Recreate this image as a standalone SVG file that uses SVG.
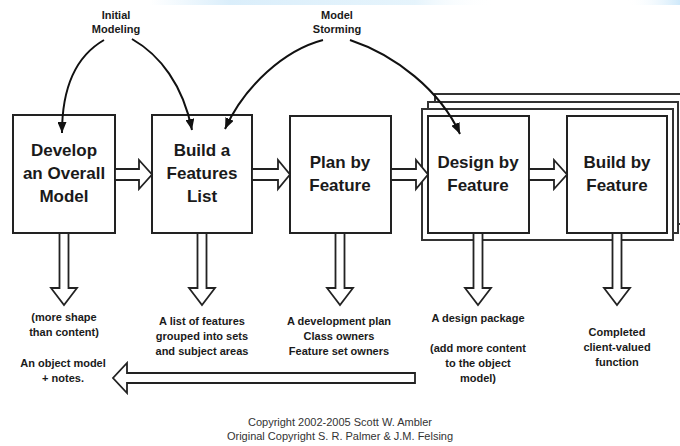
<svg xmlns="http://www.w3.org/2000/svg" width="680" height="446" viewBox="0 0 680 446">
<defs>
<linearGradient id="band" x1="0" y1="0" x2="1" y2="0">
<stop offset="0" stop-color="#d6ecfa" stop-opacity="0"/>
<stop offset="0.15" stop-color="#d6ecfa" stop-opacity="0.9"/>
<stop offset="0.5" stop-color="#dff1fb" stop-opacity="0.8"/>
<stop offset="0.65" stop-color="#ffffff" stop-opacity="0"/>
<stop offset="0.9" stop-color="#ffffff" stop-opacity="0"/>
<stop offset="1" stop-color="#cfe9fa" stop-opacity="1"/>
</linearGradient>
<marker id="ah" markerUnits="userSpaceOnUse" markerWidth="11" markerHeight="9" refX="11" refY="4.5" orient="auto">
<path d="M0,0 L11,4.5 L0,9 Z" fill="#111"/>
</marker>
<style>
.box{fill:#fff;stroke:#222;stroke-width:2}
.frame{fill:#fff;stroke:#333;stroke-width:2}
.blk{fill:#fff;stroke:#222;stroke-width:1.8;stroke-linejoin:miter}
.cur{fill:none;stroke:#111;stroke-width:2;marker-end:url(#ah)}
.t{font-family:"Liberation Sans",Arial,sans-serif;font-weight:bold;fill:#1a1a1a;text-anchor:middle}
.big{font-size:17px}
.sm{font-size:11px}
.cp{font-family:"Liberation Sans",Arial,sans-serif;font-size:11px;fill:#333;text-anchor:middle}
</style>
</defs>
<rect x="150" y="0" width="530" height="5" fill="url(#band)"/>

<g id="stack">
<rect class="frame" x="435" y="94" width="260" height="130"/>
<rect class="frame" x="428" y="102" width="250" height="131"/>
<rect class="frame" x="422" y="109" width="251" height="131"/>
</g>

<g id="develop">
<rect class="box" x="13" y="115" width="102" height="118"/>
<text class="t big" x="64" y="156">Develop</text>
<text class="t big" x="64" y="179">an Overall</text>
<text class="t big" x="64" y="202">Model</text>
</g>
<g id="buildlist">
<rect class="box" x="152" y="115" width="100" height="118"/>
<text class="t big" x="202" y="156">Build a</text>
<text class="t big" x="202" y="179">Features</text>
<text class="t big" x="202" y="202">List</text>
</g>
<g id="plan">
<rect class="box" x="290" y="116" width="101" height="117"/>
<text class="t big" x="340" y="168">Plan by</text>
<text class="t big" x="340" y="191">Feature</text>
</g>
<g id="design">
<rect class="box" x="428" y="116" width="101" height="117"/>
<text class="t big" x="478" y="168">Design by</text>
<text class="t big" x="478" y="191">Feature</text>
</g>
<g id="buildby">
<rect class="box" x="567" y="116" width="100" height="117"/>
<text class="t big" x="617" y="168">Build by</text>
<text class="t big" x="617" y="191">Feature</text>
</g>

<g id="labels-top">
<text class="t sm" x="116" y="19">Initial</text>
<text class="t sm" x="116" y="33">Modeling</text>
<text class="t sm" x="337" y="19">Model</text>
<text class="t sm" x="337" y="33">Storming</text>
</g>

<g id="connectors">
<path class="cur" d="M104,40 C78,55 62,85 62,133"/>
<path class="cur" d="M132,39 C160,55 183,85 192,130"/>
<path class="cur" d="M323,40 C285,50 245,85 225,129"/>
<path class="cur" d="M350,40 C395,55 440,90 460,134"/>
<path class="blk" d="M115,169 H139 V160 L152,174.5 L139,189 V180 H115 Z"/>
<path class="blk" d="M252,169 H278 V160 L290,174.5 L278,189 V180 H252 Z"/>
<path class="blk" d="M391,169 H416 V160 L428,174.5 L416,189 V180 H391 Z"/>
<path class="blk" d="M529,169 H554 V160 L567,174.5 L554,189 V180 H529 Z"/>
<path class="blk" d="M59.5,233 V288 H51 L64,305 L77,288 H68.5 V233 Z"/>
<path class="blk" d="M197.5,233 V288 H189 L202,305 L215,288 H206.5 V233 Z"/>
<path class="blk" d="M335.5,233 V288 H327 L340,305 L353,288 H344.5 V233 Z"/>
<path class="blk" d="M473.5,233 V288 H465 L478,305 L491,288 H482.5 V233 Z"/>
<path class="blk" d="M612.5,233 V288 H604 L617,305 L630,288 H621.5 V233 Z"/>
<path class="blk" d="M415,373 H127 V363 L113,378 L127,393 V383 H415 Z"/>
</g>

<g id="outputs">
<text class="t sm" x="64" y="321">(more shape</text>
<text class="t sm" x="64" y="336">than content)</text>
<text class="t sm" x="63" y="367">An object model</text>
<text class="t sm" x="63" y="382">+ notes.</text>
<text class="t sm" x="202" y="325">A list of features</text>
<text class="t sm" x="202" y="340">grouped into sets</text>
<text class="t sm" x="202" y="355">and subject areas</text>
<text class="t sm" x="339" y="325">A development plan</text>
<text class="t sm" x="339" y="340">Class owners</text>
<text class="t sm" x="339" y="355">Feature set owners</text>
<text class="t sm" x="478" y="322">A design package</text>
<text class="t sm" x="478" y="352">(add more content</text>
<text class="t sm" x="478" y="367">to the object</text>
<text class="t sm" x="478" y="382">model)</text>
<text class="t sm" x="617" y="336">Completed</text>
<text class="t sm" x="617" y="351">client-valued</text>
<text class="t sm" x="617" y="366">function</text>
</g>

<g id="copyright">
<text class="cp" x="340" y="426">Copyright 2002-2005 Scott W. Ambler</text>
<text class="cp" x="340" y="440">Original Copyright S. R. Palmer &amp; J.M. Felsing</text>
</g>
</svg>
